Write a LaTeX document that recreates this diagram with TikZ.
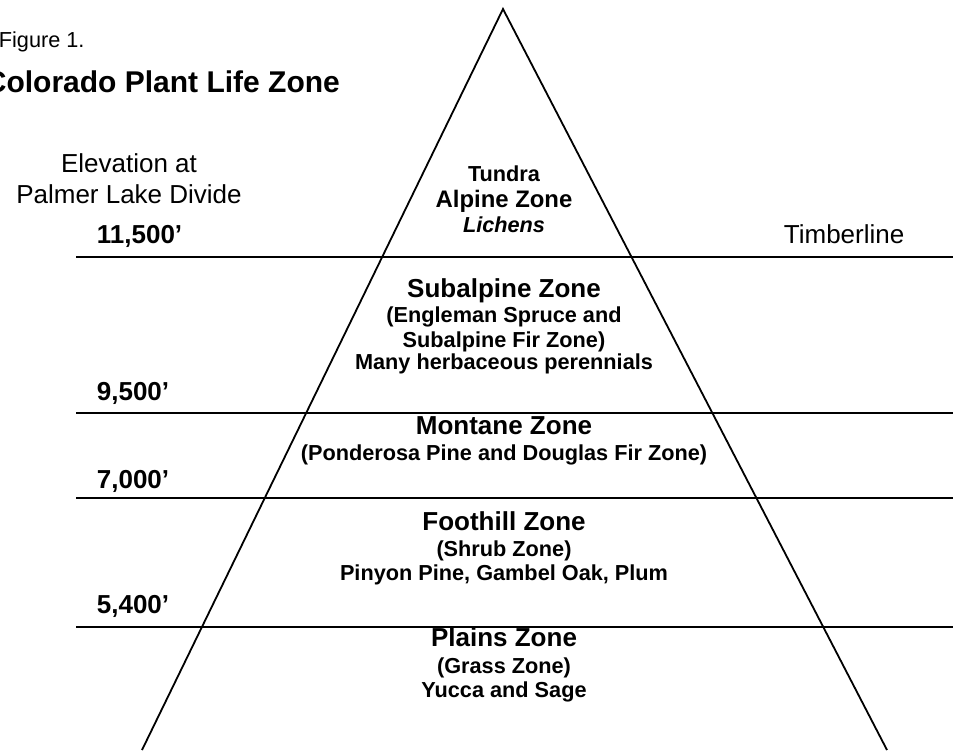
\documentclass[tikz,border=0pt]{standalone}
\usepackage{fontspec}
\setmainfont{Liberation Sans}
\tikzset{
  zonehead/.style={font=\bfseries\fontsize{26}{30}\selectfont, anchor=base, inner sep=0pt},
  zonenote/.style={font=\bfseries\fontsize{21.7}{26}\selectfont, anchor=base, inner sep=0pt},
  elev/.style={font=\bfseries\fontsize{26}{30}\selectfont, anchor=base west, inner sep=0pt},
  plain/.style={font=\fontsize{26}{30}\selectfont, anchor=base, inner sep=0pt}
}
\begin{document}
\begin{tikzpicture}[x=1pt,y=-1pt,line width=1.8pt]
        \useasboundingbox (0,0) rectangle (956,750);
        \coordinate (T) at (503,9);
        \coordinate (BL) at (142,750);
        \coordinate (BR) at (887,750);
        \draw (BL) -- (T) -- (BR);
        \foreach \n/\y in {1/257,2/413,3/498,4/627} {
            \coordinate (L\n) at (76,\y);
            \coordinate (R\n) at (953,\y);
            \draw (L\n) -- (R\n);
        }
        % titles
        \node[anchor=base west, inner sep=0pt, font=\fontsize{21.7}{26}\selectfont] (fig) at (-2,47) {Figure 1.};
        \node[anchor=base west, inner sep=0pt, font=\bfseries\fontsize{30}{34}\selectfont] (title) at (-16,92) {Colorado Plant Life Zone};
        \node[plain] (elevA) at (129,172) {Elevation at};
        \node[plain] (elevB) at (129,203) {Palmer Lake Divide};
        \node[plain, anchor=base west] (timber) at (783,243) {Timberline};
        % elevations
        \node[elev] (e1) at (96,243) {11,500’};
        \node[elev] (e2) at (96,400) {9,500’};
        \node[elev] (e3) at (96,488) {7,000’};
        \node[elev] (e4) at (96,613) {5,400’};
        % alpine
        \node[zonenote] (tundra) at (504,181) {Tundra};
        \node[zonehead, font=\bfseries\fontsize{23.9}{28}\selectfont] (alpine) at (504,207) {Alpine Zone};
        \node[zonenote, font=\bfseries\itshape\fontsize{21.7}{26}\selectfont] (lichens) at (504,232) {Lichens};
        % subalpine
        \node[zonehead] (subalp) at (504,297) {Subalpine Zone};
        \node[zonenote] (subalpA) at (504,322) {(Engleman Spruce and};
        \node[zonenote] (subalpB) at (504,347) {Subalpine Fir Zone)};
        \node[zonenote] (subalpC) at (504,369) {Many herbaceous perennials};
        % montane
        \node[zonehead] (montane) at (504,434) {Montane Zone};
        \node[zonenote] (montaneA) at (504,460) {(Ponderosa Pine and Douglas Fir Zone)};
        % foothill
        \node[zonehead] (foot) at (504,530) {Foothill Zone};
        \node[zonenote] (footA) at (504,556) {(Shrub Zone)};
        \node[zonenote] (footB) at (504,580) {Pinyon Pine, Gambel Oak, Plum};
        % plains
        \node[zonehead] (plains) at (504,646) {Plains Zone};
        \node[zonenote] (plainsA) at (504,673) {(Grass Zone)};
        \node[zonenote] (plainsB) at (504,697) {Yucca and Sage};
\end{tikzpicture}
\end{document}
